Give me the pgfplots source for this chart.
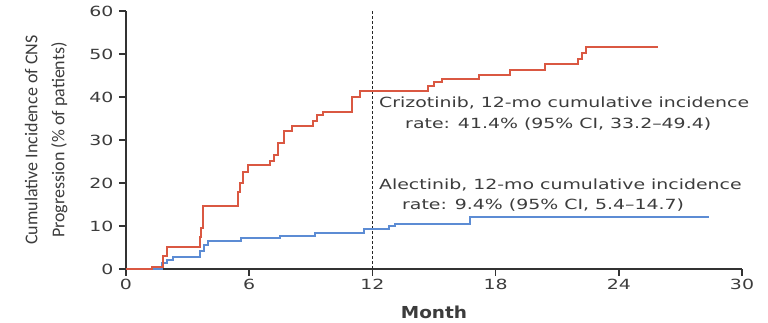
\documentclass[border=0pt]{standalone}
\usepackage{pgfplots}
\pgfplotsset{compat=1.18}
\usepackage{fontspec}
\setmainfont{DejaVu Sans}
\newfontfamily\annfont[FakeStretch=1.35]{DejaVu Sans}
\newfontfamily\monthfont[FakeStretch=1.12]{DejaVu Sans}
\newfontfamily\labfont{Carlito}
\definecolor{crz}{RGB}{218,88,66}
\definecolor{alc}{RGB}{92,140,212}
\definecolor{txt}{RGB}{60,60,60}
\begin{document}
\begin{tikzpicture}
\begin{axis}[
  name=ax,
  scale only axis,
  width=616pt, height=258pt,
  xmin=0, xmax=30, ymin=0, ymax=60,
  axis lines*=left,
  axis line style={-, black!80, line width=1.4pt},
  xtick={0,6,...,30}, ytick={0,10,...,60},
  tick align=outside,
  major tick length=7pt,
  tick style={black!80, line width=1.4pt},
  tick label style={font=\annfont\fontsize{14}{16}\selectfont, text=txt},
  yticklabel style={xshift=-2pt},
  /pgf/number format/assume math mode=true,
  xlabel={Month},
  xlabel style={font=\monthfont\bfseries\fontsize{16.5}{18}\selectfont, text=txt, yshift=-9pt},
  ylabel={Cumulative Incidence of CNS\\Progression (\% of patients)},
  ylabel style={align=center, text=txt, yshift=15pt, font=\labfont\fontsize{18}{27}\selectfont},
  clip=false,
]
\addplot[black!85, dash pattern=on 3pt off 2pt, line width=1.6pt] coordinates {(12,0) (12,60)};
\addplot[const plot, alc, line width=2pt] coordinates {
(0,0) (1.74,1.4) (2.0,2.0) (2.3,2.7) (3.6,4.3) (3.8,5.6) (4.0,6.6)
(5.6,7.1) (7.5,7.7) (9.2,8.4) (11.6,9.4) (12.8,10.1) (13.1,10.5)
(16.75,12.2) (28.4,12.2)};
\addplot[const plot, crz, line width=2pt] coordinates {
(0,0) (1.25,0.5) (1.8,3) (1.98,5.2) (3.6,7.5) (3.65,9.5) (3.73,14.6)
(5.47,17.8) (5.55,20) (5.7,22.6) (5.95,24.2) (7.0,25.2) (7.2,26.5)
(7.4,29.3) (7.7,32.2) (8.1,33.2) (9.1,34.5) (9.3,35.7) (9.6,36.4)
(11.0,40.1) (11.4,41.4) (14.7,42.6) (15.0,43.6) (15.4,44.1) (17.2,45.1)
(18.7,46.3) (20.4,47.7) (22.0,48.8) (22.2,50.2) (22.4,51.6) (25.9,51.6)};
\node[anchor=west, text=txt, font=\annfont\fontsize{14}{16}\selectfont, inner sep=0pt] at (axis cs:12.32,38.6) {Crizotinib, 12-mo cumulative incidence};
\node[anchor=west, text=txt, font=\annfont\fontsize{14}{16}\selectfont, inner sep=0pt] at (axis cs:13.59,33.7) {rate: 41.4\% (95\% CI, 33.2–49.4)};
\node[anchor=west, text=txt, font=\annfont\fontsize{14}{16}\selectfont, inner sep=0pt] at (axis cs:12.32,19.5) {Alectinib, 12-mo cumulative incidence};
\node[anchor=west, text=txt, font=\annfont\fontsize{14}{16}\selectfont, inner sep=0pt] at (axis cs:13.44,14.9) {rate: 9.4\% (95\% CI, 5.4–14.7)};
\end{axis}
\pgfresetboundingbox
\path ([shift={(-126pt,-54pt)}]ax.south west) rectangle ([shift={(26pt,11pt)}]ax.north east);
\end{tikzpicture}
\end{document}
